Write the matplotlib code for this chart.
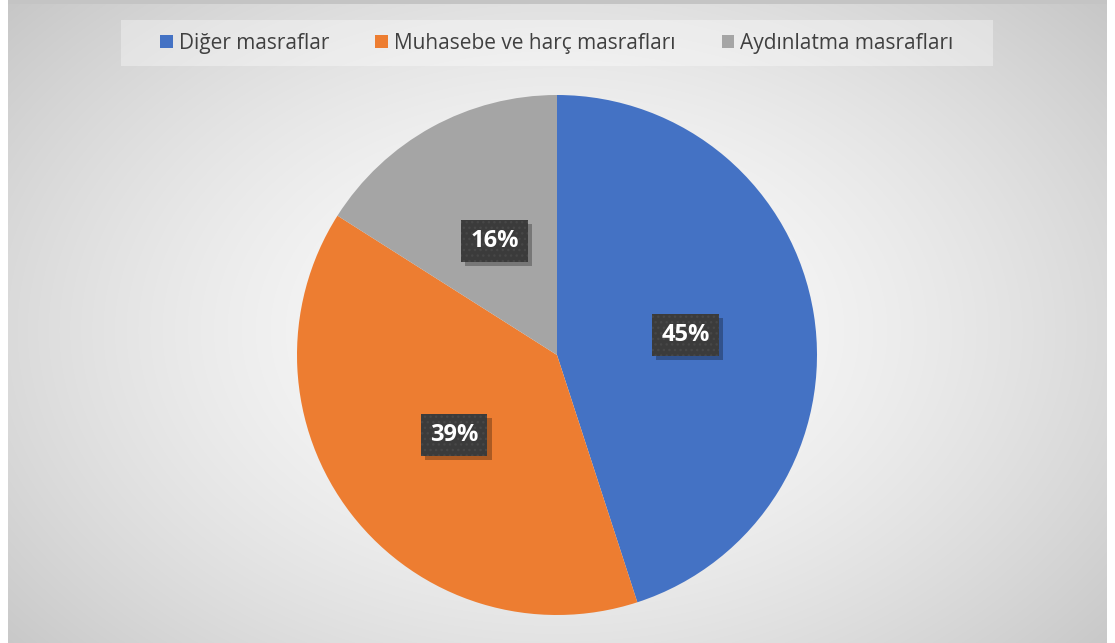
import numpy as np
import matplotlib
matplotlib.use("Agg")
import matplotlib.pyplot as plt
from matplotlib.patches import Rectangle
import matplotlib.patheffects as pe

# chart data
categories = ["Diğer masraflar", "Muhasebe ve harç masrafları", "Aydınlatma masrafları"]
shares = [45, 39, 16]
colors = ["#4472C4", "#ED7D31", "#A5A5A5"]


class BoxShadow(pe.AbstractPathEffect):
    """Plain drop shadow for a patch, without copying its hatch."""

    def __init__(self, offset=(3, -3), alpha=0.28):
        super().__init__(offset)
        self.alpha = alpha

    def draw_path(self, renderer, gc, tpath, affine, rgbFace):
        gc0 = renderer.new_gc()
        gc0.copy_properties(gc)
        gc0.set_hatch(None)
        gc0.set_linewidth(0)
        gc0.set_alpha(self.alpha)
        renderer.draw_path(gc0, tpath, affine + self._offset_transform(renderer), (0, 0, 0))
        gc0.restore()


W, H = 1115, 643
fig = plt.figure(figsize=(W / 100, H / 100), dpi=100)
fig.patch.set_facecolor("white")

plt.rcParams["hatch.linewidth"] = 1.0

# radial gradient background of the chart area
x0, x1 = 8, 1107
bg = fig.add_axes([x0 / W, 0, (x1 - x0) / W, 1])
bg.set_axis_off()
yy, xx = np.mgrid[0:H, 0:x1 - x0]
cx, cy = 549, 330
d = np.sqrt(((xx - cx) / 700.0) ** 2 + ((yy - cy) / 480.0) ** 2)
v = 252 - 50 * np.clip(d, 0, 1.1) ** 1.6
v[:4, :] = 196
img = np.dstack([v, v, v]) / 255.0
bg.imshow(np.clip(img, 0, 1), aspect="auto", interpolation="bilinear")

# legend band
fig.patches.append(Rectangle((121 / W, 1 - 66 / H), 872 / W, 46 / H,
                             transform=fig.transFigure, facecolor="white",
                             alpha=0.35, edgecolor="none", zorder=1))

# pie
R = 260
ax = fig.add_axes([(557 - R) / W, (H - 355 - R) / H, 2 * R / W, 2 * R / H])
wedges, texts, autotexts = ax.pie(
    shares, colors=colors, startangle=90, counterclock=False,
    autopct="%d%%", pctdistance=0.5,
    wedgeprops=dict(linewidth=0),
    textprops=dict(color="white", fontsize=17, fontweight="bold", family="Open Sans"))
ax.set_xlim(-1, 1)
ax.set_ylim(-1, 1)
ax.set_aspect("equal")

for t in autotexts:
    t.set_bbox(dict(boxstyle="square,pad=0.38", facecolor="#3b3b3b",
                    edgecolor="#474747", linewidth=0, hatch="..."))
    t.get_bbox_patch().set_path_effects([BoxShadow(), pe.Normal()])

leg = fig.legend(wedges, categories, loc="center", ncol=3,
                 bbox_to_anchor=(557 / W, 1 - 43 / H), frameon=False,
                 prop=dict(family="Open Sans", size=15),
                 handlelength=0.6, handleheight=0.6, handletextpad=0.3,
                 columnspacing=2.2)
for t in leg.get_texts():
    t.set_color("#404040")
for h in leg.legend_handles:
    h.set_edgecolor("none")

fig.savefig("out.png", dpi=100)
